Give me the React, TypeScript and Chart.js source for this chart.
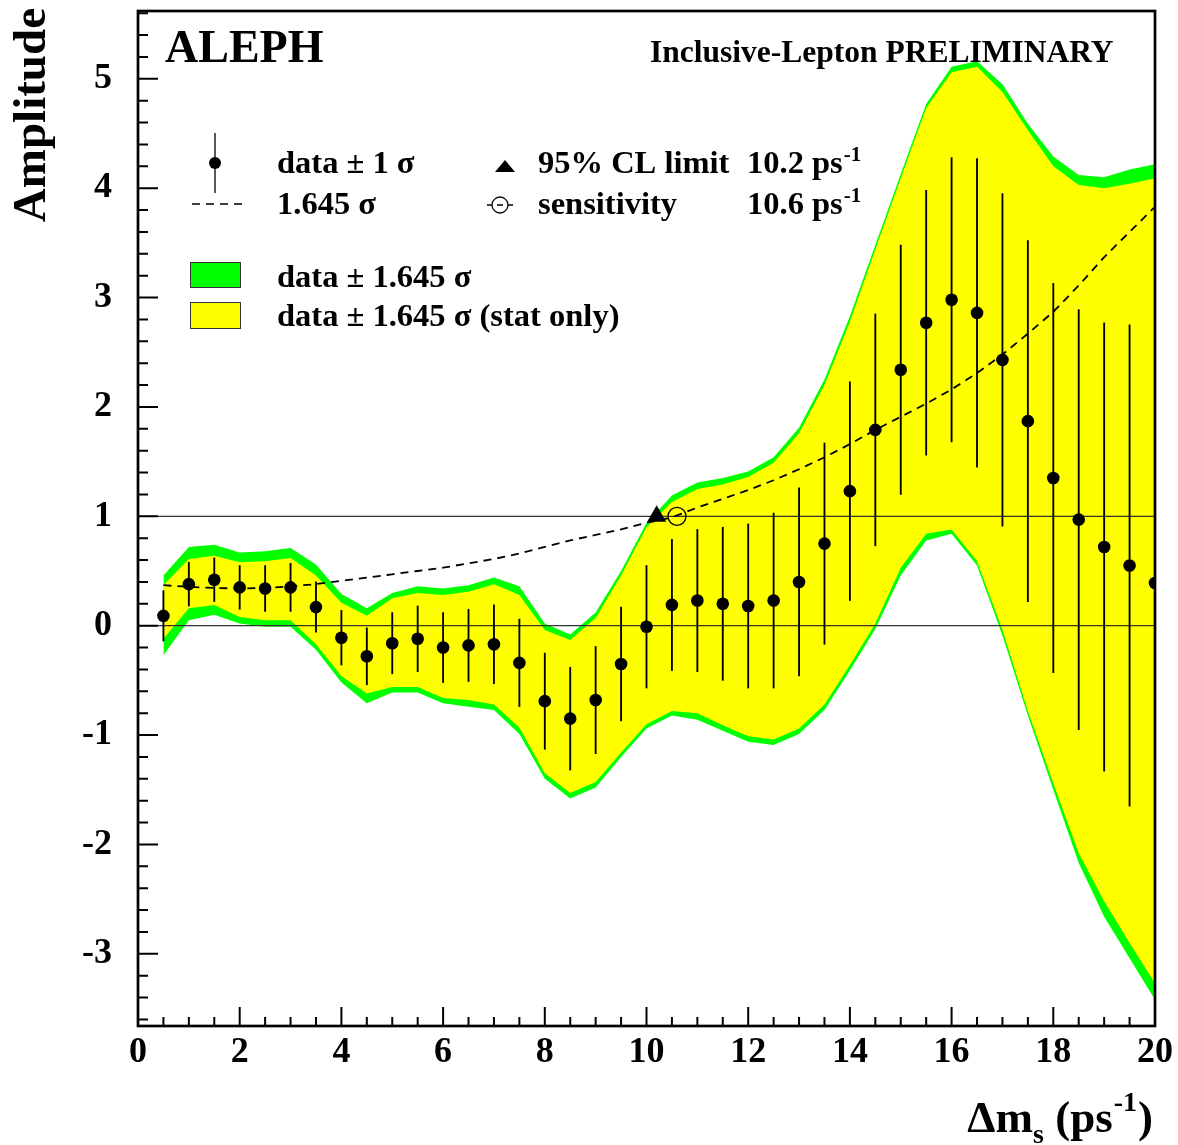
import React, { useEffect, useRef } from "react";
import { Chart, registerables } from "chart.js";

Chart.register(...registerables);

// ---- data ----
const massDiff = [0.5, 1, 1.5, 2, 2.5, 3, 3.5, 4, 4.5, 5, 5.5, 6, 6.5, 7, 7.5, 8, 8.5, 9, 9.5, 10,
  10.5, 11, 11.5, 12, 12.5, 13, 13.5, 14, 14.5, 15, 15.5, 16, 16.5, 17, 17.5, 18, 18.5, 19, 19.5, 20];

const amplitude = [0.09, 0.38, 0.42, 0.35, 0.34, 0.35, 0.17, -0.11, -0.28, -0.16, -0.12, -0.2, -0.18, -0.17, -0.34, -0.69, -0.85, -0.68, -0.35, -0.01,
  0.19, 0.23, 0.2, 0.18, 0.23, 0.4, 0.75, 1.23, 1.79, 2.34, 2.77, 2.98, 2.86, 2.43, 1.87, 1.35, 0.97, 0.72, 0.55, 0.39];

const sigma = [0.23, 0.2, 0.2, 0.2, 0.21, 0.22, 0.23, 0.25, 0.26, 0.28, 0.3, 0.32, 0.33, 0.36, 0.4, 0.44, 0.47, 0.49, 0.52, 0.56,
  0.6, 0.65, 0.7, 0.75, 0.8, 0.86, 0.92, 1.0, 1.06, 1.14, 1.21, 1.3, 1.41, 1.52, 1.65, 1.78, 1.92, 2.05, 2.2, 2.35];

const totalBandUpper = [0.46, 0.72, 0.74, 0.67, 0.68, 0.71, 0.56, 0.29, 0.16, 0.3, 0.36, 0.34, 0.37, 0.44, 0.36, 0.02, -0.08, 0.12, 0.5, 0.94,
  1.19, 1.31, 1.35, 1.41, 1.54, 1.81, 2.25, 2.83, 3.48, 4.13, 4.77, 5.11, 5.16, 4.95, 4.59, 4.29, 4.12, 4.1, 4.17, 4.22];

const totalBandLower = [-0.27, 0.05, 0.1, 0.02, -0.01, -0.01, -0.22, -0.52, -0.71, -0.61, -0.61, -0.71, -0.74, -0.77, -0.99, -1.4, -1.58, -1.48, -1.2, -0.94,
  -0.82, -0.86, -0.96, -1.06, -1.09, -0.99, -0.77, -0.41, -0.03, 0.46, 0.78, 0.84, 0.55, -0.09, -0.82, -1.5, -2.17, -2.66, -3.04, -3.42];

const statBandUpper = [0.37, 0.61, 0.64, 0.58, 0.59, 0.62, 0.46, 0.21, 0.09, 0.25, 0.3, 0.28, 0.31, 0.38, 0.28, -0.04, -0.13, 0.07, 0.46, 0.9,
  1.13, 1.25, 1.29, 1.36, 1.49, 1.76, 2.2, 2.78, 3.44, 4.09, 4.73, 5.06, 5.11, 4.88, 4.53, 4.2, 4.03, 4.0, 4.04, 4.09];

const statBandLower = [-0.12, 0.16, 0.19, 0.08, 0.05, 0.05, -0.17, -0.46, -0.62, -0.56, -0.56, -0.66, -0.68, -0.72, -0.93, -1.35, -1.53, -1.43, -1.16, -0.9,
  -0.78, -0.8, -0.91, -1.01, -1.04, -0.94, -0.72, -0.36, 0.02, 0.53, 0.84, 0.88, 0.59, -0.04, -0.78, -1.44, -2.08, -2.52, -2.9, -3.27];

const sensitivityCurve = [0.37, 0.355, 0.345, 0.34, 0.345, 0.36, 0.38, 0.41, 0.44, 0.47, 0.5, 0.53, 0.57, 0.61, 0.66, 0.72, 0.78, 0.83, 0.88, 0.94,
  0.99, 1.08, 1.16, 1.24, 1.33, 1.43, 1.54, 1.66, 1.79, 1.91, 2.03, 2.16, 2.31, 2.48, 2.67, 2.87, 3.11, 3.37, 3.6, 3.83];

const refLineX = [0, 20];
const zeroLevel = [0, 0];
const unitLevel = [1, 1];

const limitPoint = { x: 10.2, y: 1.0 };
const sensitivityPoint = { x: 10.6, y: 1.0 };

const xTickValues = [0, 2, 4, 6, 8, 10, 12, 14, 16, 18, 20];
const yTickValues = [-3, -2, -1, 0, 1, 2, 3, 4, 5];

const X_MIN = 0;
const X_MAX = 20;
const Y_MIN = -3.66;
const Y_MAX = 5.62;

const FF = "'Liberation Serif', 'Times New Roman', serif";
const GREEN = "#00ff00";
const YELLOW = "#ffff00";

function pts(xs: number[], ys: number[]) {
  return xs.map((x, i) => ({ x, y: ys[i] }));
}

function textWithSup(ctx: CanvasRenderingContext2D, base: string, sup: string, x: number, y: number, baseFont: string, supFont: string, rise: number) {
  ctx.font = baseFont;
  ctx.fillText(base, x, y);
  const w = ctx.measureText(base).width;
  ctx.font = supFont;
  ctx.fillText(sup, x + w + 1, y - rise);
}

const decorPlugin = {
  id: "decor",
  afterDraw(chart: any) {
    const ctx: CanvasRenderingContext2D = chart.ctx;
    const { left, right, top, bottom } = chart.chartArea;
    const xs = chart.scales.x;
    const ys = chart.scales.y;
    ctx.save();
    // ticks (inward)
    ctx.strokeStyle = "#000";
    ctx.lineWidth = 2;
    ctx.beginPath();
    for (let k = 0; k <= 40; k++) {
      const v = k * 0.5;
      const px = xs.getPixelForValue(v);
      const len = k % 4 === 0 ? 19 : 9;
      ctx.moveTo(px, bottom);
      ctx.lineTo(px, bottom - len);
    }
    for (let k = -18; k <= 28; k++) {
      const v = k / 5;
      const py = ys.getPixelForValue(v);
      const len = k % 5 === 0 ? 20 : 10;
      ctx.moveTo(left, py);
      ctx.lineTo(left + len, py);
    }
    ctx.stroke();
    // frame
    ctx.lineWidth = 2.7;
    ctx.strokeRect(left, top, right - left, bottom - top);

    // texts
    ctx.fillStyle = "#000";
    ctx.textAlign = "left";
    ctx.textBaseline = "alphabetic";
    ctx.font = `bold 46px ${FF}`;
    ctx.fillText("ALEPH", 165, 62);
    ctx.font = `bold 31.5px ${FF}`;
    ctx.fillText("Inclusive-Lepton PRELIMINARY", 650, 62);

    // legend
    const lf = `bold 32.5px ${FF}`;
    const sf = `bold 21px ${FF}`;
    // error bar icon
    ctx.lineWidth = 1.3;
    ctx.beginPath();
    ctx.moveTo(215, 133);
    ctx.lineTo(215, 193);
    ctx.stroke();
    ctx.beginPath();
    ctx.arc(215, 163, 6, 0, Math.PI * 2);
    ctx.fill();
    // dashed icon
    ctx.setLineDash([8, 6]);
    ctx.lineWidth = 1.6;
    ctx.beginPath();
    ctx.moveTo(192, 204);
    ctx.lineTo(242, 204);
    ctx.stroke();
    ctx.setLineDash([]);
    // triangle icon
    ctx.beginPath();
    ctx.moveTo(505, 160);
    ctx.lineTo(515, 172);
    ctx.lineTo(495, 172);
    ctx.closePath();
    ctx.fill();
    // circle icon
    ctx.lineWidth = 1.3;
    ctx.beginPath();
    ctx.moveTo(487, 205); ctx.lineTo(492, 205);
    ctx.moveTo(497, 205); ctx.lineTo(503, 205);
    ctx.moveTo(508, 205); ctx.lineTo(513, 205);
    ctx.stroke();
    ctx.beginPath();
    ctx.arc(500, 205, 8, 0, Math.PI * 2);
    ctx.stroke();
    // boxes
    ctx.lineWidth = 1;
    ctx.strokeStyle = "#333";
    ctx.fillStyle = GREEN;
    ctx.fillRect(190, 262, 50, 25);
    ctx.strokeRect(190.5, 262.5, 50, 25);
    ctx.fillStyle = YELLOW;
    ctx.fillRect(190, 302, 50, 26);
    ctx.strokeRect(190.5, 302.5, 50, 26);
    ctx.fillStyle = "#000";
    ctx.font = lf;
    ctx.fillText("data \u00b1 1 \u03c3", 277, 173);
    ctx.fillText("1.645 \u03c3", 277, 214);
    ctx.fillText("95% CL limit", 538, 173);
    ctx.fillText("sensitivity", 538, 214);
    textWithSup(ctx, "10.2 ps", "-1", 747, 173, lf, sf, 12);
    textWithSup(ctx, "10.6 ps", "-1", 747, 214, lf, sf, 12);
    ctx.font = lf;
    ctx.fillText("data \u00b1 1.645 \u03c3", 277, 287);
    ctx.fillText("data \u00b1 1.645 \u03c3 (stat only)", 277, 326);

    // x-axis title: Δm_s (ps^-1)
    const big = `bold 45px ${FF}`;
    const small = `bold 28px ${FF}`;
    ctx.font = big;
    const w1 = ctx.measureText("\u0394m").width;
    const w3 = ctx.measureText(" (ps").width;
    const w5 = ctx.measureText(")").width;
    ctx.font = small;
    const w2 = ctx.measureText("s").width;
    const w4 = ctx.measureText("-1").width;
    const total = w1 + w2 + w3 + w4 + w5 + 2;
    let cx = 1153 - total;
    const by = 1132;
    ctx.font = big;
    ctx.fillText("\u0394m", cx, by); cx += w1;
    ctx.font = small;
    ctx.fillText("s", cx, by + 11); cx += w2;
    ctx.font = big;
    ctx.fillText(" (ps", cx, by); cx += w3 + 1;
    ctx.font = small;
    ctx.fillText("-1", cx, by - 21); cx += w4 + 1;
    ctx.font = big;
    ctx.fillText(")", cx, by);

    // y-axis title
    ctx.save();
    ctx.translate(45, 8);
    ctx.rotate(-Math.PI / 2);
    ctx.textAlign = "right";
    ctx.font = `bold 47px ${FF}`;
    ctx.fillText("Amplitude", 0, 0);
    ctx.restore();

    ctx.restore();
  },
};

export default function App() {
  const ref = useRef<HTMLCanvasElement>(null);
  useEffect(() => {
    const canvas = ref.current;
    if (!canvas) return;
    const errorBars = massDiff.map((x, i) => ({ x, y: [amplitude[i] - sigma[i], amplitude[i] + sigma[i]] }));
    const tickFont = { family: FF, size: 36, weight: "bold" as const };
    const chart = new Chart(canvas, {
      type: "line",
      data: {
        datasets: [
          { label: "green upper", data: pts(massDiff, totalBandUpper), fill: "+1", backgroundColor: GREEN, borderColor: "rgba(0,0,0,0)", borderWidth: 0, pointRadius: 0, tension: 0, order: 10 } as any,
          { label: "green lower", data: pts(massDiff, totalBandLower), fill: false, borderColor: "rgba(0,0,0,0)", borderWidth: 0, pointRadius: 0, tension: 0, order: 9 },
          { label: "yellow upper", data: pts(massDiff, statBandUpper), fill: "+1", backgroundColor: YELLOW, borderColor: "rgba(0,0,0,0)", borderWidth: 0, pointRadius: 0, tension: 0, order: 8 },
          { label: "yellow lower", data: pts(massDiff, statBandLower), fill: false, borderColor: "rgba(0,0,0,0)", borderWidth: 0, pointRadius: 0, tension: 0, order: 7 },
          { label: "zero", data: pts(refLineX, zeroLevel), borderColor: "#333", borderWidth: 1.3, pointRadius: 0, fill: false, order: 6 },
          { label: "one", data: pts(refLineX, unitLevel), borderColor: "#333", borderWidth: 1.3, pointRadius: 0, fill: false, order: 5 },
          { label: "1.645 sigma", data: pts(massDiff, sensitivityCurve), borderColor: "#000", borderWidth: 1.8, borderDash: [8, 6], pointRadius: 0, fill: false, tension: 0, order: 4 },
          { type: "bar", label: "errors", data: errorBars as any, backgroundColor: "#000", borderWidth: 0, barThickness: 1.2, order: 3 } as any,
          { label: "data", data: pts(massDiff, amplitude), showLine: false, pointRadius: 6.3, pointBackgroundColor: "#000", pointBorderWidth: 0, borderColor: "#000", order: 2 },
          { label: "limit", data: [limitPoint], showLine: false, pointStyle: "triangle", pointRadius: 11, pointBackgroundColor: "#000", pointBorderColor: "#000", pointBorderWidth: 0, order: 1 },
          { label: "sensitivity", data: [sensitivityPoint], showLine: false, pointStyle: "circle", pointRadius: 9, pointBackgroundColor: "rgba(0,0,0,0)", pointBorderColor: "#000", pointBorderWidth: 1.3, order: 0 },
        ],
      },
      options: {
        responsive: false,
        animation: false,
        devicePixelRatio: 1,
        events: [],
        layout: { padding: { left: 0, right: 23, top: 11, bottom: 0 } },
        plugins: { legend: { display: false }, tooltip: { enabled: false }, title: { display: false } },
        scales: {
          x: {
            type: "linear",
            min: X_MIN,
            max: X_MAX,
            offset: false,
            grid: { display: false, drawTicks: false },
            border: { display: false },
            afterBuildTicks: (s: any) => { s.ticks = xTickValues.map((v) => ({ value: v })); },
            afterFit: (s: any) => { s.height = 119; s.paddingLeft = 0; s.paddingRight = 0; },
            ticks: { font: tickFont, color: "#000", padding: 5, maxRotation: 0, autoSkip: false, callback: (v: any) => String(v) },
          },
          y: {
            type: "linear",
            min: Y_MIN,
            max: Y_MAX,
            grid: { display: false, drawTicks: false },
            border: { display: false },
            afterBuildTicks: (s: any) => { s.ticks = yTickValues.map((v) => ({ value: v })); },
            afterFit: (s: any) => { s.width = 138; s.paddingTop = 0; s.paddingBottom = 0; },
            ticks: { font: tickFont, color: "#000", padding: 26, autoSkip: false, callback: (v: any) => String(v) },
          },
        },
      },
      plugins: [decorPlugin],
    } as any);
    return () => chart.destroy();
  }, []);
  return (
    <div style={{ position: "absolute", left: 0, top: 0, width: 1178, height: 1145, background: "#fff" }}>
      <canvas ref={ref} width={1178} height={1145} style={{ width: 1178, height: 1145, display: "block" }} />
    </div>
  );
}
